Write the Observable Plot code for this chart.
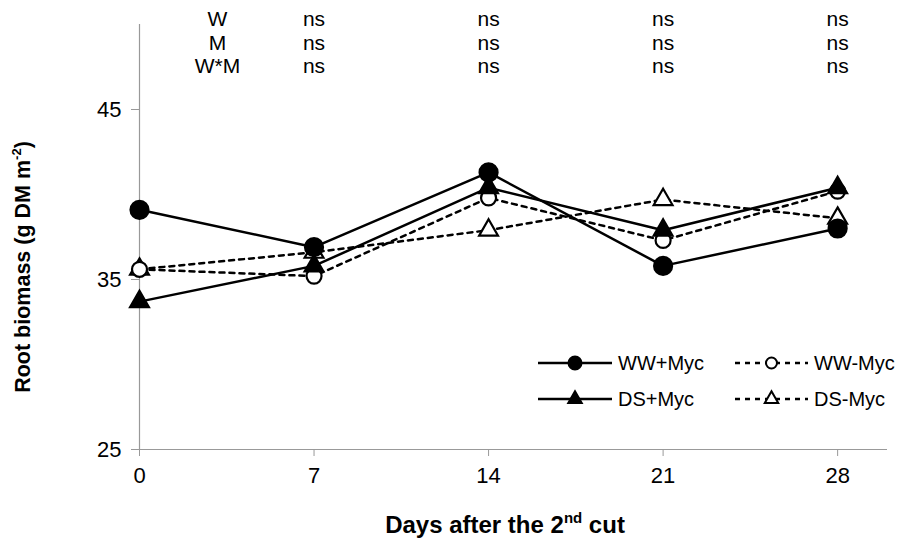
<!DOCTYPE html>
<html><head><meta charset="utf-8">
<script src="https://cdn.jsdelivr.net/npm/d3@7"></script>
<script src="https://cdn.jsdelivr.net/npm/@observablehq/plot@0.6"></script>
<style>body{margin:0;background:#fff} #chart{position:relative;width:908px;height:547px}</style>
</head><body><div id="chart"></div>
<script>
// ---- data ----
const days = [0, 7, 14, 21, 28];
const wwPlusMyc  = [39.1, 36.9, 41.3, 35.8, 38.0];
const wwMinusMyc = [35.6, 35.2, 39.8, 37.3, 40.2];
const dsPlusMyc  = [33.7, 35.8, 40.4, 37.9, 40.4];
const dsMinusMyc = [35.6, 36.6, 37.9, 39.7, 38.6];
const seriesNames = ["WW+Myc", "WW-Myc", "DS+Myc", "DS-Myc"];
const xTicks = [0, 7, 14, 21, 28];
const yTicks = [25, 35, 45];
const effectLabels = ["W", "M", "W*M"];
const effectDays = [7, 14, 21, 28];
const effectW  = ["ns", "ns", "ns", "ns"];
const effectM  = ["ns", "ns", "ns", "ns"];
const effectWM = ["ns", "ns", "ns", "ns"];
const xTitle = ["Days after the 2", "nd", " cut"];
const yTitle = ["Root biomass (g DM m", "-2", ")"];

// ---- styles ----
const FONT = "'Liberation Sans', Arial, sans-serif";
const styleOf = {
  "WW+Myc": {dash: null, symbol: "circle", fill: "black", r: 9, rl: 6.5},
  "WW-Myc": {dash: "5,5", symbol: "circle", fill: "white", r: 7.5, rl: 5.5},
  "DS+Myc": {dash: null, symbol: "triangle", fill: "black", r: 7, rl: 5},
  "DS-Myc": {dash: "5,5", symbol: "triangle", fill: "white", r: 7, rl: 5}
};
const valuesBy = {"WW+Myc": wwPlusMyc, "WW-Myc": wwMinusMyc, "DS+Myc": dsPlusMyc, "DS-Myc": dsMinusMyc};
const rows = seriesNames.flatMap(s => days.map((d, i) => ({series: s, day: d, value: valuesBy[s][i]})));
const effects = [effectW, effectM, effectWM].map(arr => effectDays.map((d, i) => ({day: d, sig: arr[i]})));

const drawOrder = ["DS-Myc", "WW-Myc", "DS+Myc", "WW+Myc"];
const marks = [
  Plot.ruleX([0], {stroke: "#999", strokeWidth: 1.2}),
  Plot.ruleY([25], {stroke: "#999", strokeWidth: 1.2}),
  Plot.axisX({ticks: xTicks, tickSize: 7, tickPadding: 11, stroke: "#999", fill: "black", label: null, fontSize: 22, tickFormat: d => String(d)}),
  Plot.axisY({ticks: yTicks, tickSize: 8, tickPadding: 10, stroke: "#999", fill: "black", label: null, fontSize: 22}),
];
for (const s of drawOrder) {
  const st = styleOf[s];
  marks.push(Plot.line(rows.filter(r => r.series === s), {x: "day", y: "value", stroke: "black", strokeWidth: 2.5, strokeDasharray: st.dash}));
}
for (const s of drawOrder) {
  const st = styleOf[s];
  marks.push(Plot.dot(rows.filter(r => r.series === s), {x: "day", y: "value", symbol: st.symbol, r: st.r, fill: st.fill, stroke: "black", strokeWidth: 2.2}));
}
effects.forEach((rowData, i) => {
  marks.push(Plot.text(rowData, {x: "day", text: "sig", frameAnchor: "top", dy: -13 + i * 23.5, fontSize: 21}));
  marks.push(Plot.text([effectLabels[i]], {text: d => d, frameAnchor: "top-left", dx: 78, dy: -13 + i * 23.5, fontSize: 21, textAnchor: "middle"}));
});

const svg = Plot.plot({
  width: 908, height: 547,
  marginLeft: 139, marginRight: 21, marginTop: 24, marginBottom: 98,
  style: {fontFamily: FONT, fontSize: "22px", color: "black", background: "white", overflow: "visible"},
  x: {domain: [0, 30]},
  y: {domain: [25, 50]},
  marks
});

const sel = d3.select(svg);
// x title
const xt = sel.append("text").attr("x", 505).attr("y", 533).attr("text-anchor", "middle")
  .attr("font-family", FONT).attr("font-weight", "bold").attr("font-size", 24).attr("fill", "black");
xt.append("tspan").text(xTitle[0]);
xt.append("tspan").attr("font-size", 15).attr("dy", -10).text(xTitle[1]);
xt.append("tspan").attr("dy", 10).text(xTitle[2]);
// y title
const yt = sel.append("text").attr("transform", "translate(30,267) rotate(-90)").attr("text-anchor", "middle")
  .attr("font-family", FONT).attr("font-weight", "bold").attr("font-size", 21.5).attr("fill", "black");
yt.append("tspan").text(yTitle[0]);
yt.append("tspan").attr("font-size", 13).attr("dy", -9).text(yTitle[1]);
yt.append("tspan").attr("dy", 9).text(yTitle[2]);

// legend
const legendItems = [
  {s: "WW+Myc", x0: 538, x1: 612, y: 363},
  {s: "WW-Myc", x0: 735, x1: 808, y: 363},
  {s: "DS+Myc", x0: 538, x1: 612, y: 399},
  {s: "DS-Myc", x0: 735, x1: 808, y: 399}
];
const lg = sel.append("g");
for (const it of legendItems) {
  const st = styleOf[it.s];
  lg.append("line").attr("x1", it.x0).attr("x2", it.x1).attr("y1", it.y).attr("y2", it.y)
    .attr("stroke", "black").attr("stroke-width", 2.5).attr("stroke-dasharray", st.dash);
  const type = st.symbol === "circle" ? d3.symbolCircle : d3.symbolTriangle;
  lg.append("path").attr("d", d3.symbol(type, Math.PI * st.rl * st.rl)())
    .attr("transform", `translate(${(it.x0 + it.x1) / 2},${it.y})`)
    .attr("fill", st.fill).attr("stroke", "black").attr("stroke-width", 2);
  lg.append("text").attr("x", it.x1 + 6).attr("y", it.y).attr("dy", "0.35em").attr("text-anchor", "start")
    .attr("font-family", FONT).attr("font-size", 20).attr("fill", "black").text(it.s);
}
document.getElementById("chart").appendChild(svg);
</script>
</body></html>
